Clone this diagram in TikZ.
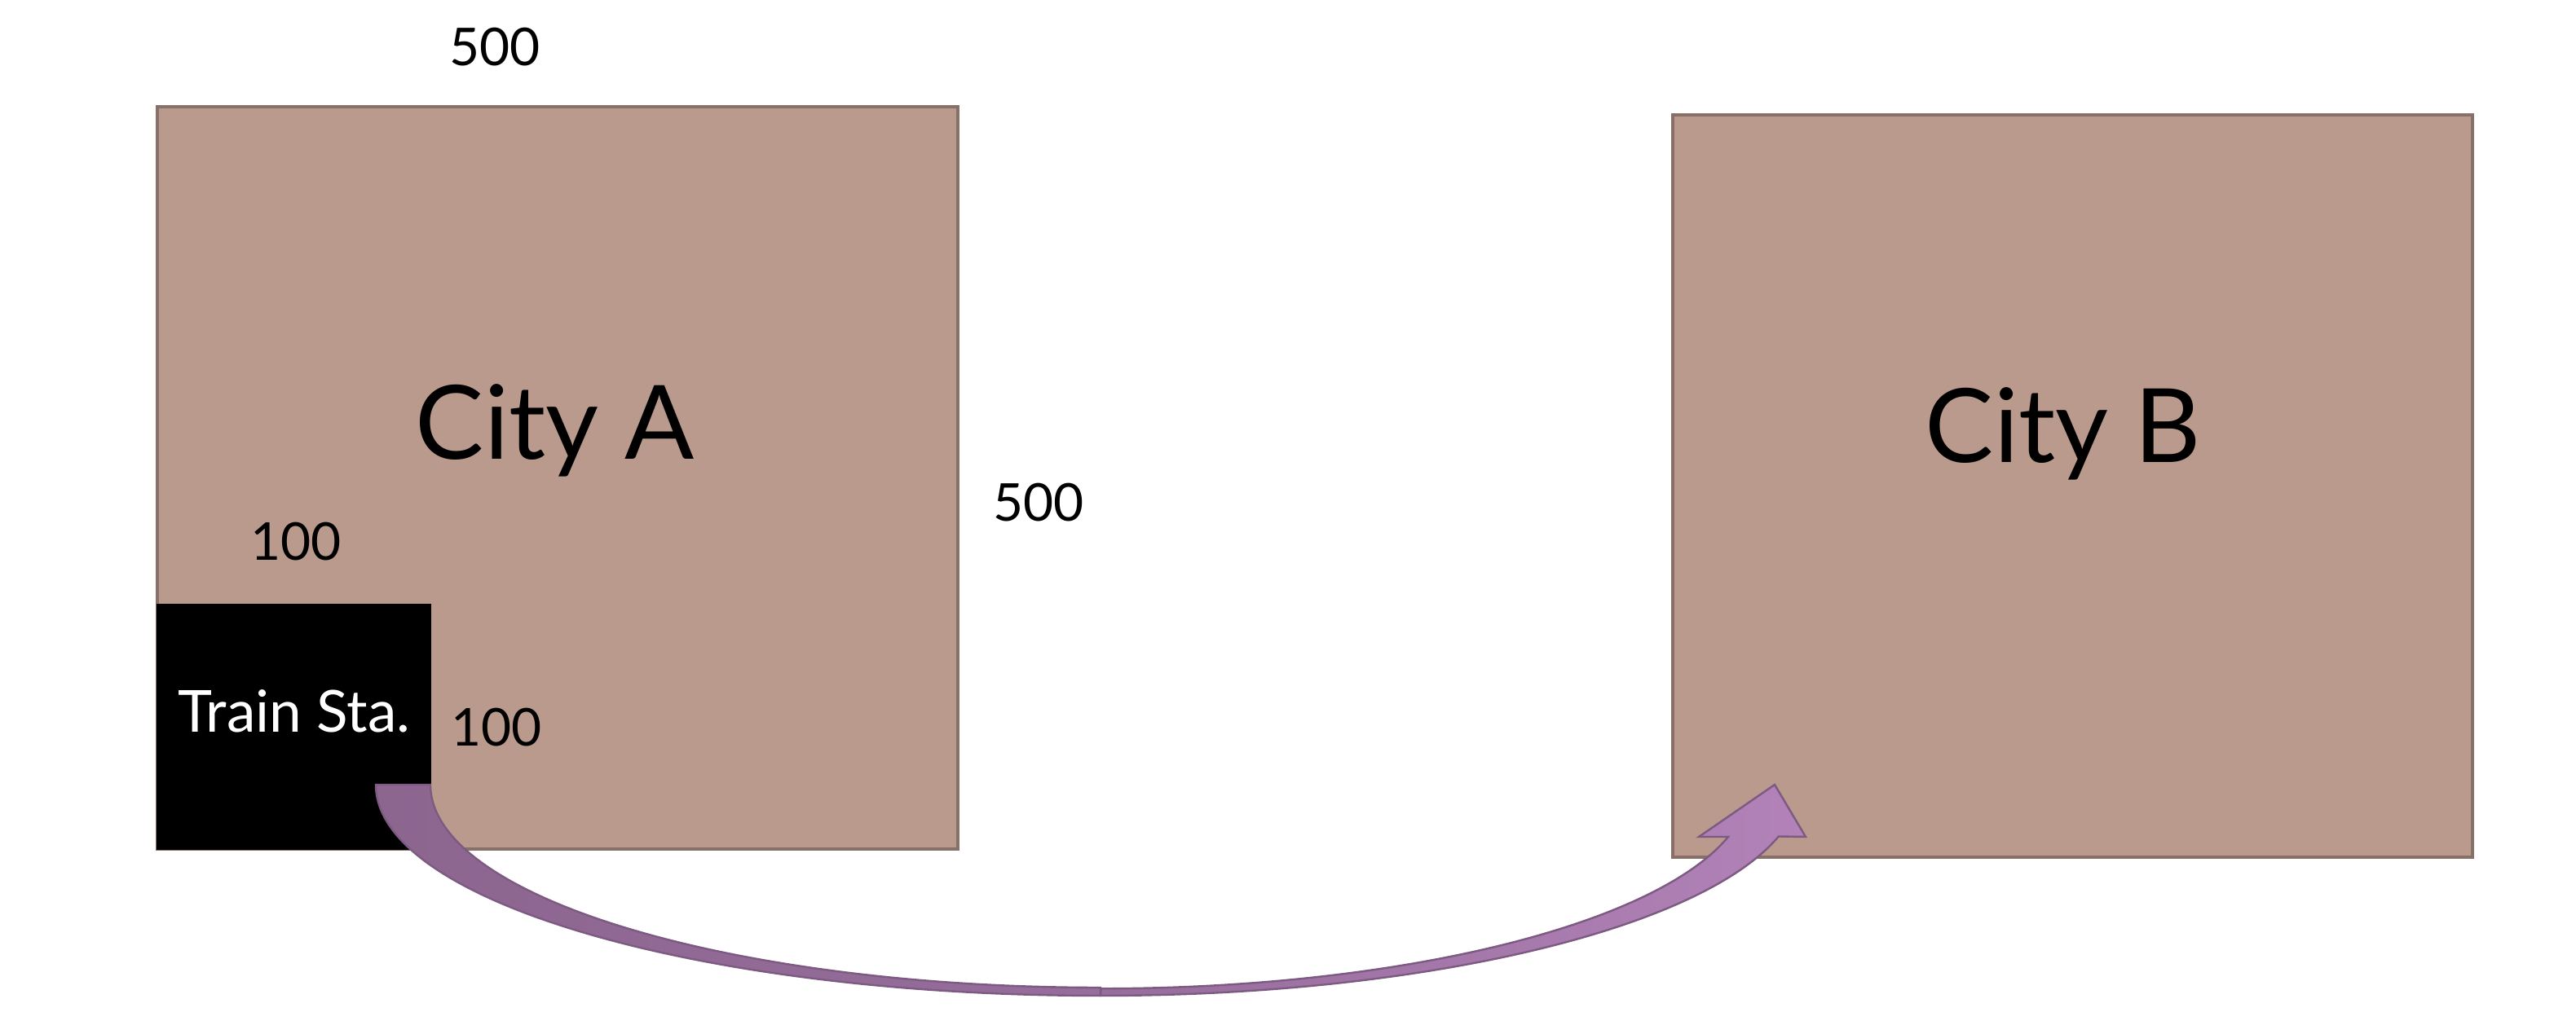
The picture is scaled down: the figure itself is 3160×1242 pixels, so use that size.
\documentclass[tikz,border=0pt]{standalone}
\usepackage{fontspec}
\setmainfont{Lato}
\definecolor{boxfill}{RGB}{185,154,140}
\definecolor{boxline}{RGB}{135,112,104}
\definecolor{arrowdark}{RGB}{140,102,143}
\definecolor{arrowmid}{RGB}{150,109,155}
\definecolor{arrowlight}{RGB}{178,130,184}
\definecolor{arrowline}{RGB}{125,90,130}
\begin{document}
\begin{tikzpicture}[x=0.25pt,y=0.25pt,
  city/.style={draw=boxline, line width=0.8pt, fill=boxfill, anchor=south west, inner sep=0pt, outer sep=0pt},
  station/.style={draw=black, line width=0.5pt, fill=black, anchor=south west, inner sep=0pt, outer sep=0pt, minimum width=83.75pt, minimum height=75pt},
  bigtxt/.style={font=\fontsize{31.5}{34}\selectfont, inner sep=0pt},
  dimtxt/.style={font=\fontsize{16}{19}\selectfont, inner sep=0pt},
  sttxt/.style={font=\fontsize{17.8}{21}\selectfont, text=white, inner sep=0pt},
  band/.style={draw=arrowline, line width=0.6pt, line join=miter}]
\useasboundingbox (0,0) rectangle (3160,1242);
\node[city, minimum width=245.5pt, minimum height=227.75pt] (cityA) at (193,200) {};
\node[city, minimum width=245.25pt, minimum height=227.75pt] (cityB) at (2052,190) {};
\node[station] (station) at (193,200) {};
\node[bigtxt] (tA) at (681,714) {City A};
\node[bigtxt] (tB) at (2531,710) {City B};
\node[sttxt] (tS) at (361,369) {Train Sta.};
\node[dimtxt] (d1) at (607,1184) {500};
\node[dimtxt] (d2) at (1274,625) {500};
\node[dimtxt] (d3) at (363,577) {100};
\node[dimtxt] (d4) at (609,349) {100};
% curved up arrow from the station to City B
\coordinate (start) at (461,279);
\path[band, left color=arrowdark, right color=arrowmid]
  (start) arc[start angle=180, end angle=270, x radius=222.25pt, y radius=64.75pt]
  -- (1350,30) arc[start angle=270, end angle=180, x radius=205.5pt, y radius=62.25pt] -- cycle;
\path[band, left color=arrowmid, right color=arrowlight]
  (1350,20) arc[start angle=270, end angle=345.8, x radius=214.5pt, y radius=64.75pt]
  -- (2215,215) -- (2177,279) -- (2084,215) -- (2120,215)
  arc[start angle=345.4, end angle=270, x radius=198.75pt, y radius=62.25pt] -- cycle;
\end{tikzpicture}
\end{document}
